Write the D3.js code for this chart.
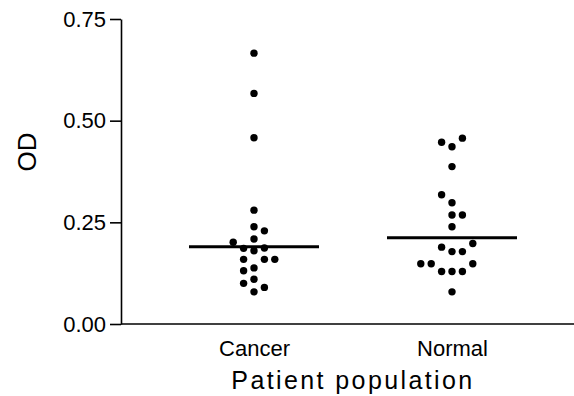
<!DOCTYPE html>
<html>
<head>
<meta charset="utf-8">
<script src="https://cdn.jsdelivr.net/npm/d3@7"></script>
<style>
  body { margin: 0; background: #fff; }
  svg { display: block; font-family: "Liberation Sans", Arial, Helvetica, sans-serif; }
</style>
</head>
<body>
<div id="chart"></div>
<script>
// data
var groups = ["Cancer", "Normal"];

var cancerOD = [0.666, 0.567, 0.458, 0.280, 0.239, 0.229, 0.209, 0.201, 0.186, 0.180,
  0.187, 0.159, 0.159, 0.159, 0.131, 0.138, 0.100, 0.110, 0.079, 0.090];
// beeswarm column of each point (as Prism stacked them)
var cancerCol = [0, 0, 0, 0, 0, 1, 0, -2, -1, 0,
  1, -1, 1, 2, -1, 0, -1, 0, 0, 1];

var normalOD = [0.447, 0.436, 0.457, 0.387, 0.318, 0.298, 0.268, 0.268, 0.239, 0.198,
  0.189, 0.178, 0.178, 0.148, 0.148, 0.148, 0.129, 0.129, 0.129, 0.079];
var normalCol = [-1, 0, 1, 0, -1, 0, 0, 1, 0, 2,
  -1, 0, 1, -3, -2, 2, -1, 0, 1, 0];

var medians = [0.190, 0.212];
var yTicks = [0, 0.25, 0.5, 0.75];

var svgWidth = 574;
var svgHeight = 396;

var margin = {
  top: 19,
  right: 0,
  bottom: 72,
  left: 121
};

var width = svgWidth - margin.left - margin.right;
var height = svgHeight - margin.top - margin.bottom;

var svg = d3.select("#chart")
  .append("svg")
  .attr("width", svgWidth)
  .attr("height", svgHeight);

var chartGroup = svg.append("g")
  .attr("transform", `translate(${margin.left}, ${margin.top})`);

// scales
var xScale = d3.scalePoint()
  .domain(groups)
  .range([133, 331]);

var colScale = d3.scaleLinear()
  .domain([-1, 1])
  .range([-10.4, 10.4]);

var yScale = d3.scaleLinear()
  .domain([0, 0.75])
  .range([height, 0]);

// axes
var leftAxis = d3.axisLeft(yScale)
  .tickValues(yTicks)
  .tickFormat(d3.format(".2f"))
  .tickSize(11)
  .tickSizeOuter(0)
  .tickPadding(4);

var bottomAxis = d3.axisBottom(xScale)
  .tickSize(0)
  .tickSizeOuter(0)
  .tickPadding(16);

var xAxisG = chartGroup.append("g")
  .attr("transform", `translate(0, ${height})`)
  .call(bottomAxis);

xAxisG.select(".domain")
  .attr("d", `M0,0H${width}`)
  .attr("stroke", "#000")
  .attr("stroke-width", 1.6);

xAxisG.selectAll("text")
  .attr("font-size", 22)
  .attr("fill", "#000");

var yAxisG = chartGroup.append("g")
  .call(leftAxis);

yAxisG.selectAll("path, line")
  .attr("stroke", "#000")
  .attr("stroke-width", 1.6);

yAxisG.selectAll("text")
  .attr("font-size", 22)
  .attr("fill", "#000");

// points
var allPoints = [];
cancerOD.forEach(function(v, i) {
  allPoints.push({ group: "Cancer", od: v, col: cancerCol[i] });
});
normalOD.forEach(function(v, i) {
  allPoints.push({ group: "Normal", od: v, col: normalCol[i] });
});

chartGroup.selectAll("circle")
  .data(allPoints)
  .enter()
  .append("circle")
  .attr("cx", d => xScale(d.group) + colScale(d.col))
  .attr("cy", d => yScale(d.od))
  .attr("r", 3.7)
  .attr("fill", "#000");

// median lines
chartGroup.selectAll(".median")
  .data(groups)
  .enter()
  .append("line")
  .attr("class", "median")
  .attr("x1", d => xScale(d) - 65)
  .attr("x2", d => xScale(d) + 65)
  .attr("y1", (d, i) => yScale(medians[i]))
  .attr("y2", (d, i) => yScale(medians[i]))
  .attr("stroke", "#000")
  .attr("stroke-width", 3);

// axis titles
svg.append("text")
  .attr("transform", "translate(36, 152) rotate(-90)")
  .attr("text-anchor", "middle")
  .attr("font-size", 26)
  .text("OD");

svg.append("text")
  .attr("x", 353)
  .attr("y", 389)
  .attr("text-anchor", "middle")
  .attr("font-size", 25)
  .attr("letter-spacing", 2.4)
  .text("Patient population");
</script>
</body>
</html>
